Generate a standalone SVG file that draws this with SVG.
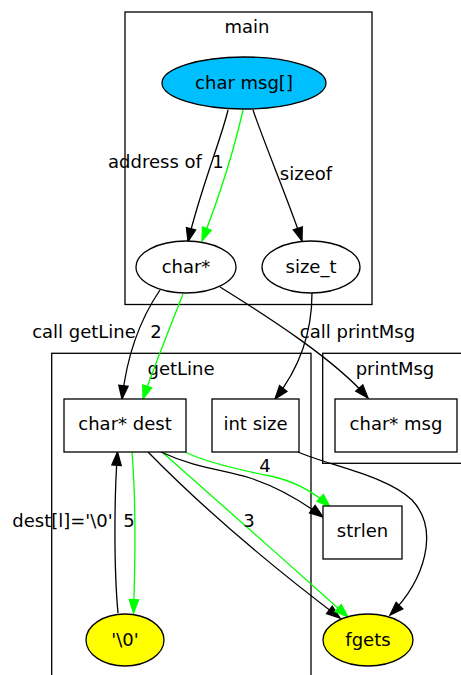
<svg xmlns="http://www.w3.org/2000/svg" width="461" height="675" viewBox="0 0 461 675">
  <style>
    text { font-family: "DejaVu Sans", "Liberation Sans", sans-serif; font-size: 18px; fill: #000; text-anchor: middle; }
    .cluster { fill: none; stroke: #000; stroke-width: 1.3; }
    .node { fill: #fff; stroke: #000; stroke-width: 1.3; }
    .blue { fill: #00bfff; }
    .yellow { fill: #ffff00; }
    .edge { fill: none; stroke: #000; stroke-width: 1.3; }
    .edge.black { marker-end: url(#arrow-black); }
    .edge.green { stroke: #00ff00; marker-end: url(#arrow-green); }
  </style>
  <defs>
    <marker id="arrow-black" viewBox="0 0 13.3 9.4" refX="13.3" refY="4.7" markerWidth="13.3" markerHeight="9.4" orient="auto" markerUnits="userSpaceOnUse" overflow="visible">
      <path d="M0,0 L13.3,4.7 L0,9.4 Z" fill="#000" stroke="#000" stroke-width="1.3"/>
    </marker>
    <marker id="arrow-green" viewBox="0 0 13.3 9.4" refX="13.3" refY="4.7" markerWidth="13.3" markerHeight="9.4" orient="auto" markerUnits="userSpaceOnUse" overflow="visible">
      <path d="M0,0 L13.3,4.7 L0,9.4 Z" fill="#00ff00" stroke="#00ff00" stroke-width="1.3"/>
    </marker>
  </defs>

  <rect width="461" height="675" fill="#fff"/>

  <!-- clusters -->
  <g id="cluster_main">
    <rect class="cluster" x="125" y="12" width="247" height="292.5"/>
    <text x="247" y="33">main</text>
  </g>
  <g id="cluster_getLine">
    <rect class="cluster" x="51.7" y="353.3" width="259.3" height="400"/>
    <text x="181" y="375">getLine</text>
  </g>
  <g id="cluster_printMsg">
    <rect class="cluster" x="322.7" y="353.3" width="145" height="110"/>
    <text x="395" y="375">printMsg</text>
  </g>

  <!-- connectors -->
  <g id="edges">
    <path class="edge black" d="M228,110 C221,140 200,190 188,241.7"/>
    <text x="155" y="168">address of</text>
    <path class="edge green" d="M243,110 C234,150 218,200 202,241"/>
    <text x="218" y="168">1</text>
    <path class="edge black" d="M253,110 C265,145 290,205 302,241"/>
    <text x="306" y="180">sizeof</text>

    <path class="edge black" d="M160,290 C145,312 128,345 122,399"/>
    <text x="84" y="338">call getLine</text>
    <path class="edge green" d="M183,294 C172,322 152,372 143,399"/>
    <text x="156" y="338">2</text>
    <path class="edge black" d="M220,287 C270,318 335,360 368,398"/>
    <text x="357.5" y="338">call printMsg</text>
    <path class="edge black" d="M312,293 C312,330 302,365 275,399"/>

    <path class="edge green" d="M132,452 C136,500 135,570 133.5,613"/>
    <text x="129" y="527">5</text>
    <path class="edge black" d="M118,613 C114,570 114,500 117.5,452"/>
    <text x="62.5" y="527">dest[l]='\0'</text>

    <path class="edge black" d="M148,452 C200,505 270,565 340,618"/>
    <path class="edge green" d="M162,452 C205,490 290,565 348,617"/>
    <text x="249" y="527">3</text>

    <path class="edge black" d="M161,452 C195,468 225,470 250,478 C275,486 300,500 323,517"/>
    <path class="edge green" d="M185,452 C205,462 240,470 270,476 C295,481 315,493 330,507"/>
    <text x="265" y="472">4</text>

    <path class="edge black" d="M298,452 C330,466 385,475 412,500 C440,530 425,580 390,615"/>
  </g>

  <!-- nodes -->
  <g id="node_msg">
    <ellipse class="node blue" cx="244" cy="83" rx="82" ry="26"/>
    <text x="244" y="89">char msg[]</text>
  </g>
  <g id="node_charptr">
    <ellipse class="node" cx="186" cy="267" rx="50" ry="26"/>
    <text x="186" y="273.3">char*</text>
  </g>
  <g id="node_size_t">
    <ellipse class="node" cx="311" cy="267" rx="49" ry="26"/>
    <text x="311" y="273.3">size_t</text>
  </g>
  <g id="node_dest">
    <rect class="node" x="64" y="399" width="122" height="53"/>
    <text x="125" y="430">char* dest</text>
  </g>
  <g id="node_size">
    <rect class="node" x="212" y="399" width="87" height="53"/>
    <text x="255.5" y="430">int size</text>
  </g>
  <g id="node_printmsg_msg">
    <rect class="node" x="335" y="399" width="122" height="53"/>
    <text x="396" y="430">char* msg</text>
  </g>
  <g id="node_strlen">
    <rect class="node" x="323" y="506" width="79" height="53"/>
    <text x="362.5" y="537">strlen</text>
  </g>
  <g id="node_nul">
    <ellipse class="node yellow" cx="125" cy="640" rx="39" ry="26"/>
    <text x="125" y="646">'\0'</text>
  </g>
  <g id="node_fgets">
    <ellipse class="node yellow" cx="368" cy="640" rx="45" ry="26"/>
    <text x="368" y="646">fgets</text>
  </g>
</svg>
